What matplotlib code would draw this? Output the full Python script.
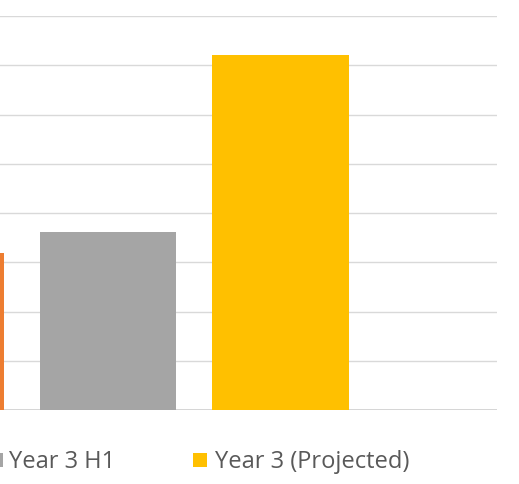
import matplotlib
matplotlib.use("Agg")
import matplotlib.pyplot as plt
from matplotlib.patches import Rectangle

# Data (values in gridline units)
series = ["Year 2", "Year 3 H1", "Year 3 (Projected)"]
values = [3.19, 3.61, 7.21]
colors = ["#ED7D31", "#A5A5A5", "#FFC000"]
legend_labels = ["Year 3 H1", "Year 3 (Projected)"]
legend_colors = ["#A5A5A5", "#FFC000"]

W, H = 519, 484
fig = plt.figure(figsize=(W / 100, H / 100), dpi=100)
fig.patch.set_facecolor("white")

ax = fig.add_axes([0, (H - 410) / H, 497 / W, (410 - 16) / H])
x = [0, 1, 2]
ax.bar(x, values, width=0.79, color=colors, zorder=3)
ax.set_xlim(1 - 108 / 172.5, 1 + 389 / 172.5)
ax.set_ylim(0, 8)
ax.set_yticks(range(0, 9))
ax.yaxis.grid(True, color="#D9D9D9", linewidth=1.0, zorder=0)
ax.tick_params(left=False, bottom=False, labelleft=False, labelbottom=False)
for s in ax.spines.values():
    s.set_visible(False)
ax.axhline(0, color="#D0D0D0", linewidth=1.2, zorder=2)

# Legend (manual, partially cropped as in reference)
sq = 14
legend_x = [-11, 193]
text_x = [9, 215]
for lx, tx, lab, col in zip(legend_x, text_x, legend_labels, legend_colors):
    fig.patches.append(Rectangle((lx / W, (H - 467) / H), sq / W, sq / H,
                                 transform=fig.transFigure,
                                 facecolor=col, edgecolor="none"))
    fig.text(tx / W, (H - 468) / H, lab, fontsize=17, color="#595959",
             family="Open Sans", va="baseline", ha="left")

fig.savefig("out.png", dpi=100, facecolor="white")
